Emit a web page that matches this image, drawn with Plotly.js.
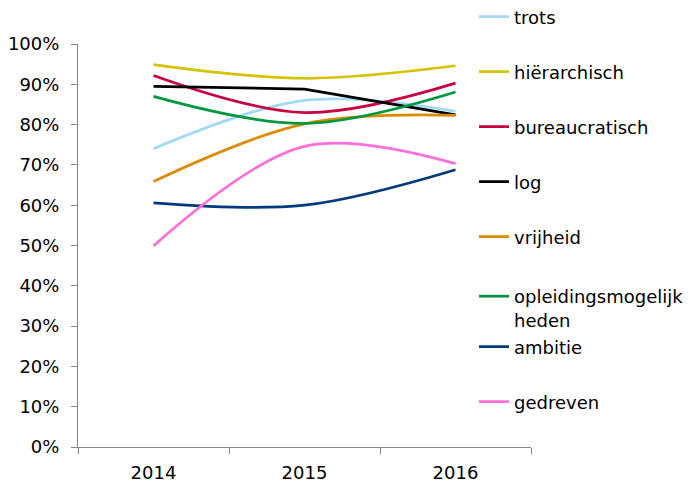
<!DOCTYPE html>
<html>
<head>
<meta charset="utf-8">
<script src="https://cdn.plot.ly/plotly-3.0.1.min.js"></script>
<style>html,body{margin:0;padding:0;background:#fff;}#chart{width:693px;height:488px;}</style>
</head>
<body>
<div id="chart"></div>
<script>
const years = ['2014', '2015', '2016'];
const seriesNames = ['trots', 'hiërarchisch', 'bureaucratisch', 'log', 'vrijheid', 'opleidingsmogelijk<br>heden', 'ambitie', 'gedreven'];
const trots = [74.0, 86.0, 83.3];
const hierarchisch = [94.9, 91.5, 94.6];
const bureaucratisch = [92.2, 83.0, 90.3];
const log = [89.5, 88.8, 82.4];
const vrijheid = [65.9, 80.2, 82.3];
const opleidingsmogelijkheden = [87.0, 80.3, 88.1];
const ambitie = [60.6, 60.0, 68.8];
const gedreven = [49.9, 74.6, 70.3];
const yTicks = [0, 10, 20, 30, 40, 50, 60, 70, 80, 90, 100];

const values = [trots, hierarchisch, bureaucratisch, log, vrijheid, opleidingsmogelijkheden, ambitie, gedreven];
const colors = ['#A3D9F5', '#D4C400', '#C8003D', '#000000', '#DD8A00', '#00983F', '#003A7C', '#FF6FDA'];
const shapes = ['spline', 'spline', 'spline', 'linear', 'spline', 'spline', 'spline', 'spline'];
const legendY = [17, 72, 127, 182, 237, 292, 347, 402];

const FONT = '"DejaVu Sans", sans-serif';
const FS = 18;
const traces = values.map((v, i) => ({
  type: 'scatter', mode: 'lines', x: years, y: v, name: seriesNames[i],
  line: {color: colors[i], width: 2.75, shape: shapes[i], smoothing: 1},
  legend: i === 0 ? 'legend' : 'legend' + (i + 1),
  hoverinfo: 'skip'
}));

const layout = {
  width: 693, height: 488,
  margin: {l: 78, r: 162, t: 43.5, b: 41, autoexpand: false},
  paper_bgcolor: '#fff', plot_bgcolor: '#fff',
  font: {family: FONT, size: FS, color: '#000'},
  showlegend: true,
  xaxis: {
    type: 'category', range: [-0.5, 2.5], tickson: 'boundaries',
    ticks: 'outside', ticklen: 6, tickcolor: '#868686', tickwidth: 1,
    showline: true, linecolor: '#868686', linewidth: 1,
    showgrid: false, zeroline: false, ticklabelstandoff: 9,
    tickfont: {family: FONT, size: FS, color: '#000'}, fixedrange: true
  },
  yaxis: {
    range: [0, 100], tickvals: yTicks, ticktext: yTicks.map(t => t + '%'),
    ticks: 'outside', ticklen: 6, tickcolor: '#868686', tickwidth: 1,
    showline: true, linecolor: '#868686', linewidth: 1,
    showgrid: false, zeroline: false, ticklabelstandoff: 8,
    tickfont: {family: FONT, size: FS, color: '#000'}, fixedrange: true
  }
};

legendY.forEach((yc, i) => {
  const key = i === 0 ? 'legend' : 'legend' + (i + 1);
  const two = i === 5;
  layout[key] = {
    xref: 'container', yref: 'container',
    x: 474 / 693, xanchor: 'left',
    y: two ? 1 - (yc - 14) / 488 : 1 - yc / 488,
    yanchor: two ? 'top' : 'middle',
    valign: 'top',
    bgcolor: 'rgba(0,0,0,0)', borderwidth: 0,
    font: {family: FONT, size: FS, color: '#000'},
    itemwidth: 30, tracegroupgap: 0
  };
});

Plotly.newPlot('chart', traces, layout, {staticPlot: true, displayModeBar: false});
</script>
</body>
</html>
